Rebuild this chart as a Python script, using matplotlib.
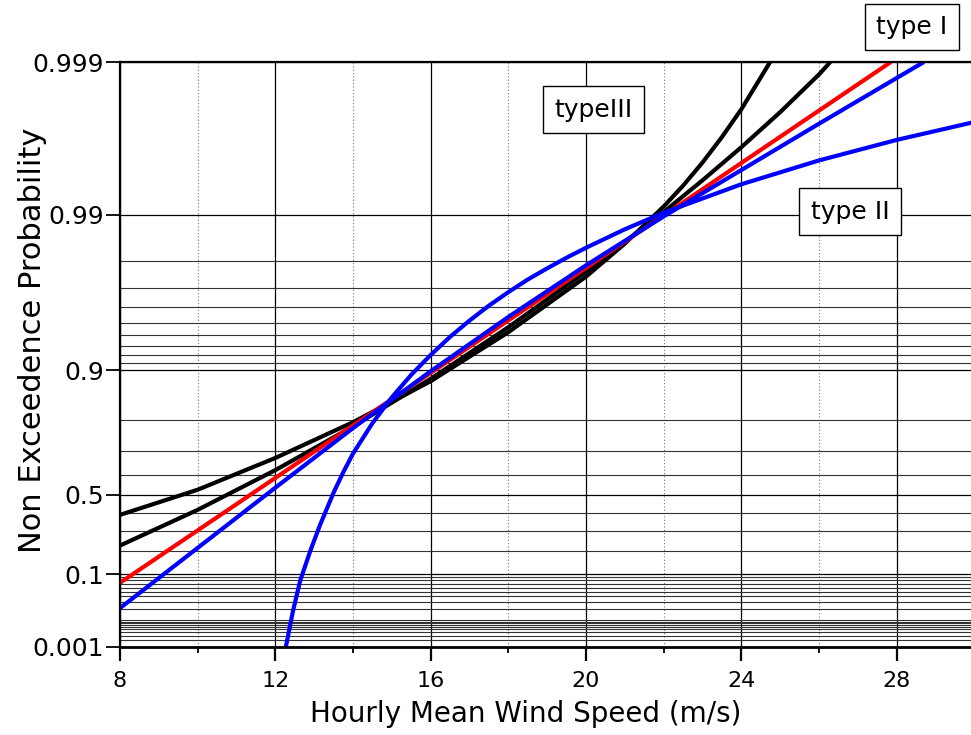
import numpy as np
import matplotlib.pyplot as plt

# Gumbel probability paper: hourly mean wind speed vs non exceedence probability
# values

# type III (black) curves
black_a_x = [8, 10, 12, 14, 16, 18, 20, 21, 22, 22.5, 23, 23.5, 24, 24.74]
black_a_p = [0.3914, 0.5265, 0.6724, 0.7935, 0.8830, 0.94239, 0.97469, 0.98457,
             0.991159, 0.993542, 0.995444, 0.996898, 0.997961, 0.999]

black_b_x = [8, 10, 12, 14, 16, 18, 20, 22, 23, 24, 25, 26, 26.29]
black_b_p = [0.2250, 0.4192, 0.6206, 0.7815, 0.8869, 0.94646, 0.97653, 0.990388,
             0.994042, 0.996383, 0.997869, 0.998794, 0.999]

# type I (red)
red_x = [8, 12, 16, 20, 24, 27.85]
red_p = [0.0728, 0.5847, 0.896, 0.9778, 0.99541, 0.999]

# type II (blue) curves
blue_a_x = [8, 10, 12, 14, 16, 18, 20, 22, 24, 26, 28.7]
blue_a_p = [0.0215, 0.2133, 0.5369, 0.7766, 0.8985, 0.95397, 0.97863, 0.98974,
            0.994895, 0.997462, 0.999]

blue_b_x = [12.27, 12.45, 12.64, 12.9, 13.15, 13.5, 13.75, 14.0, 14.5, 15.0, 15.5,
            16, 16.5, 17, 17.5, 18, 18.5, 19, 19.5, 20, 21, 22, 24, 26, 28, 30]
blue_b_p = [0.001, 0.01734, 0.0793, 0.1987, 0.3348, 0.5116, 0.6116, 0.6896, 0.7909,
            0.8532, 0.8932, 0.91967, 0.93837, 0.95143, 0.96105, 0.96813, 0.97358,
            0.97765, 0.98094, 0.98357, 0.98755, 0.990293, 0.993674, 0.995583,
            0.996759, 0.997524]

y_ticks = [0.001, 0.1, 0.5, 0.9, 0.99, 0.999]
y_ticklabels = ['0.001', '0.1', '0.5', '0.9', '0.99', '0.999']
y_grid = ([i / 1000 for i in range(1, 10)] + [i / 100 for i in range(1, 10)]
          + [i / 10 for i in range(1, 10)] + [0.9 + i / 100 for i in range(1, 10)])
x_major = [8, 12, 16, 20, 24, 28]
x_minor = [10, 14, 18, 22, 26]


def gumbel(p):
    p = np.clip(np.asarray(p, dtype=float), 1e-12, 1 - 1e-12)
    return -np.log(-np.log(p))


def gumbel_inv(z):
    return np.exp(-np.exp(-np.asarray(z, dtype=float)))


plt.rcParams['font.family'] = ['DejaVu Sans']

fig = plt.figure(figsize=(9.71, 7.35), dpi=100)
ax = fig.add_axes([120 / 971, 88 / 735, 854.4 / 971, 585 / 735])
ax.set_yscale('function', functions=(gumbel, gumbel_inv))

line_kw = dict(lw=3.0, solid_capstyle='butt', solid_joinstyle='round')
ax.plot(black_a_x, black_a_p, color='black', **line_kw)
ax.plot(black_b_x, black_b_p, color='black', **line_kw)
ax.plot(red_x, red_p, color='red', **line_kw)
ax.plot(blue_a_x, blue_a_p, color='blue', **line_kw)
ax.plot(blue_b_x, blue_b_p, color='blue', **line_kw)

ax.set_xlim(8, 30)
ax.set_ylim(0.001, 0.999)

ax.set_xticks(x_major)
ax.set_xticks(x_minor, minor=True)
ax.set_yticks(y_ticks)
ax.set_yticklabels(y_ticklabels)
ax.set_yticks(y_grid, minor=True)

ax.tick_params(axis='x', which='major', direction='out', length=10, width=1.6,
               labelsize=16, pad=7)
ax.tick_params(axis='x', which='minor', direction='out', length=4, width=1.3)
ax.tick_params(axis='y', which='major', direction='out', length=10, width=1.3,
               labelsize=18, pad=1.5)
ax.tick_params(axis='y', which='minor', length=0)

ax.set_axisbelow(True)
ax.xaxis.grid(True, which='major', color='black', lw=0.9)
ax.xaxis.grid(True, which='minor', color='#777777', lw=0.8, ls=(0, (1, 2)))
ax.yaxis.grid(True, which='major', color='black', lw=0.9)
ax.yaxis.grid(True, which='minor', color='#333333', lw=0.8)

ax.spines['right'].set_visible(False)
ax.spines['left'].set_linewidth(1.6)
ax.spines['top'].set_linewidth(1.6)
ax.spines['bottom'].set_linewidth(2.0)

ax.set_xlabel('Hourly Mean Wind Speed (m/s)', fontsize=20)
ax.xaxis.set_label_coords(0.475, -0.09)
ax.set_ylabel('Non Exceedence Probability', fontsize=22)
ax.yaxis.set_label_coords(-0.085, 0.525)

box = dict(boxstyle='square,pad=0.45', fc='white', ec='black', lw=1.0)
fig.text(911.7 / 971, 1 - 27 / 735, 'type I', fontsize=18, ha='center', va='center', bbox=box)
fig.text(850 / 971, 1 - 211.5 / 735, 'type II', fontsize=18, ha='center', va='center', bbox=box)
fig.text(593.7 / 971, 1 - 109.7 / 735, 'typeIII', fontsize=18, ha='center', va='center', bbox=box)

fig.savefig('out.png', dpi=100)
